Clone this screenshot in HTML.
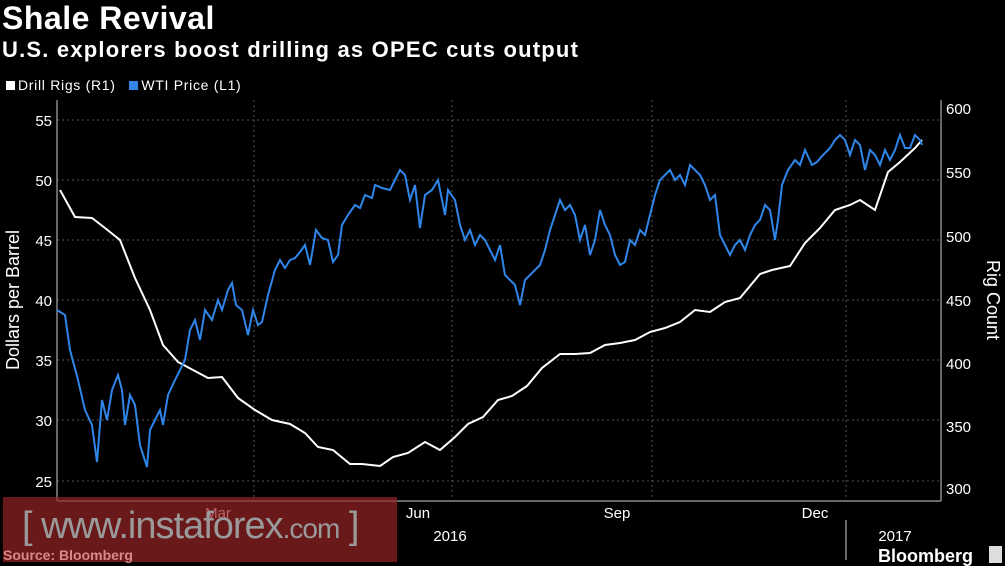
<!DOCTYPE html><html><head><style>
body{margin:0;background:#000;width:1005px;height:566px;overflow:hidden;font-family:"Liberation Sans",sans-serif;position:relative}
.t{position:absolute;color:#fff}
</style></head><body>
<div class="t" style="left:2px;top:0px;font-size:32px;font-weight:bold;letter-spacing:0.5px">Shale Revival</div>
<div class="t" style="left:2px;top:37px;font-size:22px;font-weight:bold;letter-spacing:1.2px">U.S. explorers boost drilling as OPEC cuts output</div>
<div class="t" style="left:6px;top:77px;font-size:14px;letter-spacing:0.7px"><span style="display:inline-block;width:9px;height:9px;background:#fff;margin-right:3px"></span>Drill Rigs (R1) &nbsp; <span style="display:inline-block;width:9px;height:9px;background:#2f86e8;margin-right:3px"></span>WTI Price (L1)</div>
<svg width="1005" height="566" style="position:absolute;left:0;top:0" font-family="Liberation Sans" font-size="15" fill="#fff">
<g stroke="#555" stroke-dasharray="2,3" stroke-width="1">
<line x1="254" y1="100" x2="254" y2="500"/><line x1="452" y1="100" x2="452" y2="500"/><line x1="652" y1="100" x2="652" y2="500"/><line x1="846" y1="100" x2="846" y2="500"/>
<line x1="57" y1="120" x2="941" y2="120"/><line x1="57" y1="180" x2="941" y2="180"/><line x1="57" y1="240" x2="941" y2="240"/><line x1="57" y1="300" x2="941" y2="300"/><line x1="57" y1="360" x2="941" y2="360"/><line x1="57" y1="420" x2="941" y2="420"/><line x1="57" y1="481" x2="941" y2="481"/>
</g>
<g stroke="#ccc" fill="none"><line x1="57" y1="100" x2="57" y2="501"/><line x1="941" y1="100" x2="941" y2="501"/><line x1="57" y1="501" x2="941" y2="501"/><line x1="846" y1="520" x2="846" y2="560"/></g>
<g text-anchor="end"><text x="52" y="126">55</text><text x="52" y="186">50</text><text x="52" y="246">45</text><text x="52" y="306">40</text><text x="52" y="366">35</text><text x="52" y="426">30</text><text x="52" y="487">25</text></g>
<g><text x="946" y="114">600</text><text x="946" y="178">550</text><text x="946" y="242">500</text><text x="946" y="306">450</text><text x="946" y="369">400</text><text x="946" y="432">350</text><text x="946" y="494">300</text></g>
<g text-anchor="middle"><text x="218" y="518">Mar</text><text x="418" y="518">Jun</text><text x="617" y="518">Sep</text><text x="815" y="518">Dec</text><text x="450" y="541">2016</text><text x="895" y="541">2017</text></g>
<text transform="translate(19,300) rotate(-90)" text-anchor="middle" font-size="18">Dollars per Barrel</text>
<text transform="translate(987,300) rotate(90)" text-anchor="middle" font-size="18">Rig Count</text>
<polyline fill="none" stroke="#fff" stroke-width="2" points="60,190 75,217 92,218 105,228 120,240 135,278 150,310 163,345 178,362 193,370 208,378 222,377 238,398 255,410 272,420 290,424 305,433 318,447 333,450 350,464 362,464 380,466 393,457 408,453 425,442 440,450 455,437 468,424 483,417 498,400 512,396 527,386 542,368 560,354 575,354 590,353 605,345 620,343 635,340 650,332 665,328 680,322 695,310 710,312 725,302 740,298 760,274 772,270 790,266 805,243 820,228 835,210 850,205 860,200 875,210 888,172 900,162 915,148 922,140"/>
<polyline fill="none" stroke="#2f86e8" stroke-width="2" points="57,310 65,315 70,350 78,380 85,410 92,425 97,462 102,400 107,420 112,390 118,375 122,390 125,425 130,395 135,405 140,445 147,467 150,430 155,420 160,410 163,425 168,395 175,380 185,360 190,330 195,320 200,340 205,310 212,320 218,300 222,310 228,290 232,283 236,305 242,310 248,335 253,310 258,325 262,322 268,295 275,270 280,260 285,268 290,260 295,258 300,252 305,245 310,265 316,230 322,238 328,240 333,262 338,255 342,225 348,215 355,205 360,208 365,195 372,198 375,185 382,188 390,190 395,180 400,170 405,175 410,200 415,185 420,228 425,195 432,190 438,180 445,215 448,190 455,200 460,225 465,240 470,230 475,245 480,235 485,240 490,250 495,260 500,245 505,275 510,280 515,285 520,305 525,280 530,275 535,270 540,265 545,250 550,230 555,215 560,200 565,210 570,205 575,215 580,240 585,225 590,255 595,240 600,210 605,225 610,235 615,255 620,265 625,262 630,240 635,245 640,230 645,235 650,215 655,195 660,180 665,175 670,170 675,180 680,175 685,185 690,165 695,170 700,175 705,185 710,200 715,195 720,235 725,245 730,255 735,245 740,240 745,250 750,235 755,225 760,220 765,205 770,210 775,240 778,220 782,185 788,170 795,160 800,165 805,150 812,165 817,162 823,155 830,148 835,140 840,135 845,140 850,155 855,140 860,145 865,170 870,150 875,155 880,165 885,150 890,160 895,150 900,135 905,148 910,148 915,135 920,140 922,145"/>
<text x="878" y="562" font-size="18" font-weight="bold">Bloomberg</text>
<rect x="989" y="546" width="13" height="17" fill="#ddd"/>
</svg>
<div style="position:absolute;left:3px;top:497px;width:394px;height:65px;background:rgba(150,35,35,0.7)"></div>
<div class="t" style="left:22px;top:505px;font-size:38px;color:#9a9a9a;letter-spacing:-1px">[ www.instaforex<span style="font-size:28px">.com</span> ]</div>
<div class="t" style="left:3px;top:547px;font-size:14px;font-weight:bold;color:#d88">Source: Bloomberg</div>
</body></html>
